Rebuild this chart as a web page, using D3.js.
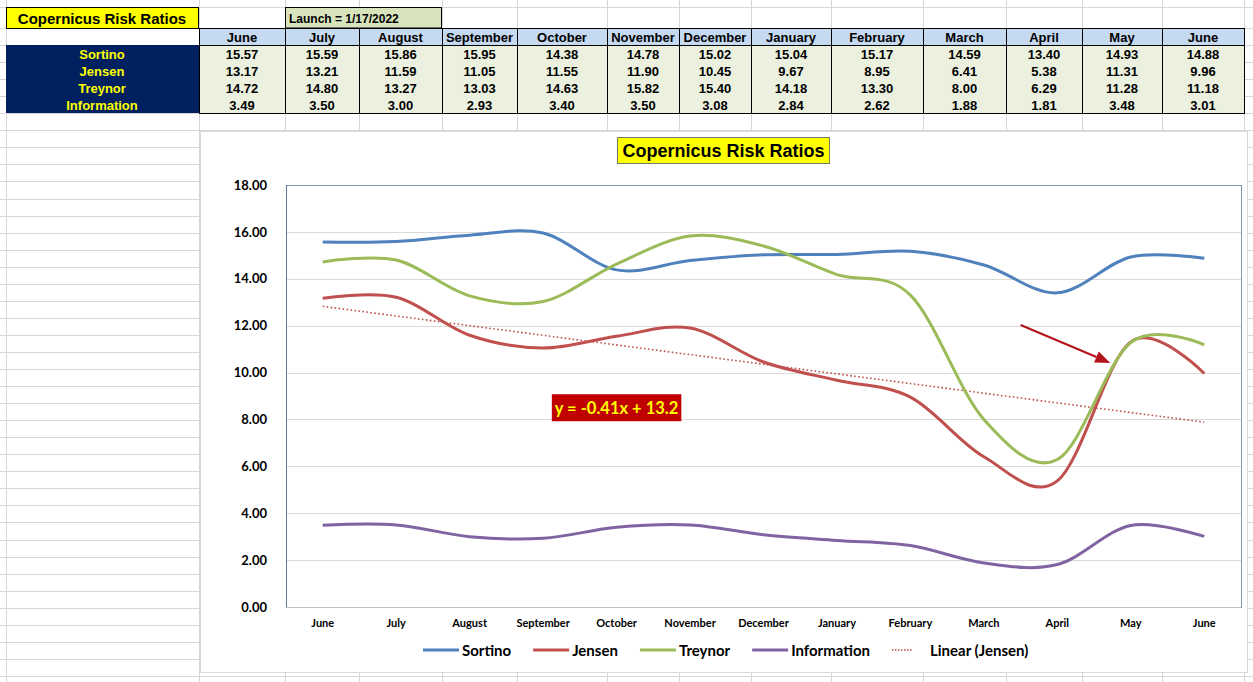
<!DOCTYPE html>
<html>
<head>
<meta charset="utf-8">
<script src="https://cdn.jsdelivr.net/npm/d3@7"></script>
<style>
  body { margin: 0; background: #fff; }
  svg { display: block; }
</style>
</head>
<body>
<svg id="chart"></svg>
<script>
// Dữ liệu
const months = ["June", "July", "August", "September", "October", "November", "December",
                "January", "February", "March", "April", "May", "June"];
const sortino = [15.57, 15.59, 15.86, 15.95, 14.38, 14.78, 15.02, 15.04, 15.17, 14.59, 13.40, 14.93, 14.88];
const jensen = [13.17, 13.21, 11.59, 11.05, 11.55, 11.90, 10.45, 9.67, 8.95, 6.41, 5.38, 11.31, 9.96];
const treynor = [14.72, 14.80, 13.27, 13.03, 14.63, 15.82, 15.40, 14.18, 13.30, 8.00, 6.29, 11.28, 11.18];
const information = [3.49, 3.50, 3.00, 2.93, 3.40, 3.50, 3.08, 2.84, 2.62, 1.88, 1.81, 3.48, 3.01];
const seriesNames = ["Sortino", "Jensen", "Treynor", "Information"];
const yTicks = [0, 2, 4, 6, 8, 10, 12, 14, 16, 18];
const launchText = "Launch = 1/17/2022";
const titleText = "Copernicus Risk Ratios";

const W = 1253, H = 682;
const svg = d3.select("#chart").attr("width", W).attr("height", H);

// Lưới bảng tính nền
const colEdges = [6, 199, 285, 359, 442, 517, 607, 679, 751, 831, 923, 1006, 1082, 1162, 1244];
const grid = svg.append("g").attr("stroke", "#d6d6d6").attr("stroke-width", 1);
colEdges.forEach(x => grid.append("line").attr("x1", x + 0.5).attr("x2", x + 0.5).attr("y1", 0).attr("y2", H));
const rowEdges = [7].concat(d3.range(28, H, 17.05));
rowEdges.forEach(y => grid.append("line").attr("x1", 0).attr("x2", W).attr("y1", Math.round(y) + 0.5).attr("y2", Math.round(y) + 0.5));

// ---- Bảng số liệu ----
const table = svg.append("g").style("font-family", "'Liberation Sans', Arial, sans-serif").style("font-weight", "bold");
const series = [sortino, jensen, treynor, information];
const rowTop = 45, rowH = 17;

table.append("rect").attr("x", 6.5).attr("y", 7.5).attr("width", 192).attr("height", 21)
    .attr("fill", "#ffff00").attr("stroke", "#000");
table.append("text").attr("x", 102).attr("y", 24).attr("text-anchor", "middle")
    .style("font-size", "15px").text(titleText);

table.append("rect").attr("x", 285.5).attr("y", 7.5).attr("width", 156).attr("height", 20.5)
    .attr("fill", "#d8e4bc").attr("stroke", "#000");
table.append("text").attr("x", 289).attr("y", 23).style("font-size", "12px").text(launchText);

// hàng tiêu đề tháng
months.forEach((m, i) => {
    const x0 = colEdges[i + 1], x1 = colEdges[i + 2];
    table.append("rect").attr("x", x0 + 0.5).attr("y", 28.5).attr("width", x1 - x0).attr("height", 17)
        .attr("fill", "#c5d9f1").attr("stroke", "#000");
    table.append("text").attr("x", (x0 + x1) / 2).attr("y", 42).attr("text-anchor", "middle")
        .style("font-size", "13px").text(m);
});

// cột nhãn
table.append("rect").attr("x", 6).attr("y", rowTop).attr("width", 193).attr("height", rowH * 4).attr("fill", "#002060");
seriesNames.forEach((n, r) => {
    table.append("text").attr("x", 102).attr("y", rowTop + r * rowH + 13.5).attr("text-anchor", "middle")
        .attr("fill", "#ffff00").style("font-size", "13px").text(n);
});

// ô dữ liệu
months.forEach((m, i) => {
    const x0 = colEdges[i + 1], x1 = colEdges[i + 2];
    table.append("rect").attr("x", x0 + 0.5).attr("y", rowTop + 0.5).attr("width", x1 - x0).attr("height", rowH * 4)
        .attr("fill", "#ebf1de").attr("stroke", "#000");
    series.forEach((s, r) => {
        table.append("text").attr("x", (x0 + x1) / 2).attr("y", rowTop + r * rowH + 13.5)
            .attr("text-anchor", "middle").style("font-size", "13px").text(d3.format(".2f")(s[i]));
    });
});

// ---- Biểu đồ ----
const box = { x: 200, y: 131, w: 1047, h: 541 };
svg.append("rect").attr("x", box.x + 0.5).attr("y", box.y + 0.5).attr("width", box.w).attr("height", box.h)
    .attr("fill", "#fff").attr("stroke", "#d9d9d9");

const plot = { left: 286, right: 1241, top: 185, bottom: 607 };
const xScale = d3.scaleBand().domain(d3.range(months.length)).range([plot.left, plot.right]);
const xc = i => xScale(i) + xScale.bandwidth() / 2;
const xv = v => plot.left + (v + 0.5) * xScale.bandwidth();
const yScale = d3.scaleLinear().domain([0, 18]).range([plot.bottom, plot.top]);

const chart = svg.append("g").style("font-family", "Lato, 'Open Sans', sans-serif");

// đường lưới ngang
chart.append("g").selectAll("line").data(yTicks.filter(t => t > 0)).enter().append("line")
    .attr("x1", plot.left).attr("x2", plot.right)
    .attr("y1", d => Math.round(yScale(d)) + 0.5).attr("y2", d => Math.round(yScale(d)) + 0.5)
    .attr("stroke", "#d9d9d9");

// khung vùng vẽ
chart.append("rect").attr("x", plot.left + 0.5).attr("y", plot.top + 0.5)
    .attr("width", plot.right - plot.left).attr("height", plot.bottom - plot.top)
    .attr("fill", "none").attr("stroke", "#8096ad");
chart.append("line").attr("x1", plot.left + 0.5).attr("x2", plot.left + 0.5).attr("y1", plot.top).attr("y2", plot.bottom)
    .attr("stroke", "#5c7ba3");
chart.append("line").attr("x1", plot.left).attr("x2", plot.right).attr("y1", plot.bottom + 0.5).attr("y2", plot.bottom + 0.5)
    .attr("stroke", "#bfbfbf");

// trục Y
const yAxis = chart.append("g")
    .attr("transform", `translate(${plot.left - 16},0)`)
    .call(d3.axisLeft(yScale).tickValues(yTicks).tickFormat(d3.format(".2f")).tickSize(0));
yAxis.select(".domain").remove();
yAxis.selectAll("text").style("font-size", "13px").style("font-weight", "bold").attr("fill", "#000")
    .style("font-family", "Lato, 'Open Sans', sans-serif");

// trục X
const xAxis = chart.append("g")
    .attr("transform", `translate(0,${plot.bottom + 9})`)
    .call(d3.axisBottom(xScale).tickFormat(i => months[i]).tickSize(0));
xAxis.select(".domain").remove();
xAxis.selectAll("text").style("font-size", "11px").style("font-weight", "bold").attr("fill", "#000")
    .style("font-family", "Lato, 'Open Sans', sans-serif");

// đường xu hướng tuyến tính (Jensen)
const xs = jensen.map((d, i) => i + 1);
const mx = d3.mean(xs), my = d3.mean(jensen);
const slope = d3.sum(xs, (x, i) => (x - mx) * (jensen[i] - my)) / d3.sum(xs, x => (x - mx) ** 2);
const intercept = my - slope * mx;
chart.append("line")
    .attr("x1", xc(0)).attr("y1", yScale(slope * 1 + intercept))
    .attr("x2", xc(months.length - 1)).attr("y2", yScale(slope * months.length + intercept))
    .attr("stroke", "#c0504d").attr("stroke-width", 1.6).attr("stroke-dasharray", "1.6,2.4");

// các đường cong
const colors = ["#4f81bd", "#c0504d", "#9bbb59", "#8064a2"];
const line = d3.line().x((d, i) => xc(i)).y(d => yScale(d)).curve(d3.curveCatmullRom.alpha(0));
series.forEach((s, k) => {
    chart.append("path").datum(s).attr("d", line)
        .attr("fill", "none").attr("stroke", colors[k]).attr("stroke-width", 3).attr("stroke-linejoin", "round");
});

// tiêu đề biểu đồ
const titleG = chart.append("g");
const titleRect = titleG.append("rect");
const tTitle = titleG.append("text").attr("x", box.x + box.w / 2).attr("y", 157).attr("text-anchor", "middle")
    .style("font-family", "'Liberation Sans', Arial, sans-serif").style("font-size", "18px").style("font-weight", "bold")
    .text(titleText);
const tb = tTitle.node().getBBox();
titleRect.attr("x", Math.round(tb.x - 5) + 0.5).attr("y", 137.5)
    .attr("width", Math.round(tb.width + 10)).attr("height", 26)
    .attr("fill", "#ffff00").attr("stroke", "#6f7d63");

// nhãn phương trình
const eq = chart.append("g");
const eqRect = eq.append("rect");
const eqText = eq.append("text").attr("x", xc(4)).attr("y", yScale(8.5) + 6).attr("text-anchor", "middle")
    .attr("fill", "#ffff00").style("font-size", "16.5px").style("font-weight", "bold")
    .text(`y = ${slope.toFixed(2)}x + ${intercept.toFixed(1)}`);
const eb = eqText.node().getBBox();
eqRect.attr("x", eb.x - 3).attr("y", yScale(8.5) - 13.5)
    .attr("width", eb.width + 6).attr("height", 27).attr("fill", "#c00000");

// mũi tên
const ax0 = xv(9.5), ay0 = yScale(12.03), ax1 = xv(10.72), ay1 = yScale(10.41);
const ang = Math.atan2(ay1 - ay0, ax1 - ax0);
const headL = 15, headW = 6;
const bx = ax1 - headL * Math.cos(ang), by = ay1 - headL * Math.sin(ang);
chart.append("line").attr("x1", ax0).attr("y1", ay0).attr("x2", bx).attr("y2", by)
    .attr("stroke", "#b3141b").attr("stroke-width", 2.2);
chart.append("path")
    .attr("d", `M${ax1},${ay1} L${bx + headW * Math.sin(ang)},${by - headW * Math.cos(ang)} L${bx - headW * Math.sin(ang)},${by + headW * Math.cos(ang)} Z`)
    .attr("fill", "#b3141b");

// chú giải
const legendItems = seriesNames.map((n, k) => ({ name: n, color: colors[k], dotted: false }))
    .concat([{ name: "Linear (Jensen)", color: "#c0504d", dotted: true }]);
const legend = chart.append("g").attr("transform", "translate(0,650)");
let lx = 423;
legendItems.forEach(it => {
    const g = legend.append("g").attr("transform", `translate(${lx},0)`);
    if (it.dotted) {
        g.append("line").attr("x1", 0).attr("x2", 20).attr("y1", 0).attr("y2", 0)
            .attr("stroke", it.color).attr("stroke-width", 1.5).attr("stroke-dasharray", "1.5,1.5");
    } else {
        g.append("line").attr("x1", 0).attr("x2", 36).attr("y1", 0).attr("y2", 0)
            .attr("stroke", it.color).attr("stroke-width", 3);
    }
    const tx = it.dotted ? 38 : 39;
    const t = g.append("text").attr("x", tx).attr("y", 5.5).style("font-size", "15px").style("font-weight", "bold").text(it.name);
    lx += tx + t.node().getComputedTextLength() + 22;
});
</script>
</body>
</html>
